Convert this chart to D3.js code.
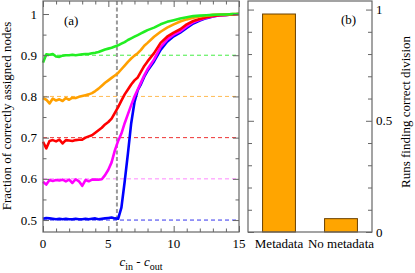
<!DOCTYPE html>
<html>
<head>
<meta charset="utf-8">
<script src="https://cdn.jsdelivr.net/npm/d3@7"></script>
<style>
  html, body { margin: 0; padding: 0; background: #fff; }
  svg { display: block; }
  text { font-family: "Liberation Serif", "Times New Roman", serif; fill: #000; }
</style>
</head>
<body>
<svg id="chart" width="415" height="273"></svg>
<script>
// ---------- data ----------
const xValues = [0,0.25,0.5,0.75,1,1.25,1.5,1.75,2,2.25,2.5,2.75,3,3.25,3.5,3.75,4,4.25,4.5,4.75,5,5.25,5.5,5.75,6,6.25,6.5,6.75,7,7.25,7.5,7.75,8,8.5,9,9.5,10,10.5,11,11.5,12,12.5,13,13.5,14,14.5,15];

const green = [0.882,0.902,0.901,0.903,0.897,0.896,0.899,0.900,0.900,0.901,0.900,0.901,0.902,0.903,0.903,0.905,0.906,0.908,0.911,0.914,0.916,0.918,0.921,0.924,0.928,0.932,0.937,0.941,0.945,0.949,0.953,0.957,0.961,0.967,0.975,0.981,0.985,0.989,0.992,0.995,0.996,0.997,0.998,0.999,0.999,1.0,1.0];
const orange = [0.796,0.792,0.783,0.795,0.790,0.793,0.789,0.796,0.792,0.797,0.796,0.799,0.801,0.803,0.805,0.808,0.813,0.819,0.826,0.833,0.839,0.845,0.851,0.857,0.866,0.875,0.884,0.892,0.899,0.905,0.913,0.923,0.930,0.945,0.957,0.967,0.975,0.982,0.987,0.991,0.994,0.996,0.998,0.999,0.999,1.0,1.0];
const red = [0.690,0.674,0.692,0.694,0.691,0.695,0.686,0.694,0.693,0.692,0.694,0.695,0.695,0.700,0.703,0.706,0.712,0.718,0.724,0.732,0.738,0.746,0.760,0.774,0.790,0.805,0.817,0.829,0.839,0.846,0.860,0.874,0.885,0.905,0.930,0.945,0.955,0.963,0.975,0.983,0.988,0.992,0.995,0.997,0.998,0.999,1.0];
const magenta = [0.593,0.586,0.597,0.595,0.597,0.596,0.598,0.594,0.598,0.590,0.599,0.594,0.583,0.597,0.594,0.598,0.598,0.598,0.599,0.609,0.622,0.640,0.669,0.692,0.710,0.735,0.757,0.779,0.800,0.817,0.834,0.851,0.866,0.890,0.920,0.938,0.950,0.958,0.970,0.980,0.986,0.991,0.994,0.997,0.998,0.999,1.0];
const blue = [0.503,0.505,0.504,0.503,0.502,0.503,0.502,0.503,0.502,0.502,0.503,0.502,0.502,0.503,0.502,0.503,0.504,0.502,0.503,0.504,0.505,0.506,0.504,0.503,0.530,0.593,0.662,0.735,0.786,0.815,0.830,0.848,0.862,0.885,0.913,0.933,0.946,0.955,0.966,0.977,0.984,0.990,0.994,0.997,0.998,0.999,1.0];

const seriesNames = ["blue","magenta","red","orange","green"];
const seriesLevels = [0.5, 0.6, 0.7, 0.8, 0.9];
const threshold = 5.657;

const xTickMajor = [0,5,10,15];
const xTickMinor = [1,2,3,4,6,7,8,9,11,12,13,14];
const yTickMajor = [0.5,0.6,0.7,0.8,0.9,1];
const yTickMinor = [0.55,0.65,0.75,0.85,0.95];

const barCategories = ["Metadata","No metadata"];
const barValues = [0.98, 0.06];
const bTickMajor = [0, 0.5, 1];
const bTickMinor = [0.1,0.2,0.3,0.4,0.6,0.7,0.8,0.9];

// ---------- styling ----------
const colors = {green:"#22ee22", orange:"#ffa000", red:"#ff0000", magenta:"#ff00ff", blue:"#0000ff"};
const dashColors = {green:"#44ee44", orange:"#ffbb55", red:"#ee3333", magenta:"#ff88ff", blue:"#3333ee"};
const frameColor = "#666";
const seriesData = {green, orange, red, magenta, blue};

const svg = d3.select("#chart");

// ---------- panel (a) ----------
const A = {l:43, r:239, t:1, b:232};
const x = d3.scaleLinear().domain([0,15]).range([A.l, A.r]);
const y = d3.scaleLinear().domain([0.471, 1.0316]).range([A.b, A.t]);

const gA = svg.append("g");

// reference dashed lines
seriesNames.forEach((name, i) => {
  gA.append("line")
    .attr("x1", x(0)).attr("x2", x(15))
    .attr("y1", y(seriesLevels[i])).attr("y2", y(seriesLevels[i]))
    .attr("stroke", dashColors[name]).attr("stroke-width", 1)
    .attr("stroke-dasharray", "4,3");
});

// threshold line
gA.append("line")
  .attr("x1", x(threshold)).attr("x2", x(threshold))
  .attr("y1", A.t).attr("y2", A.b)
  .attr("stroke", "#999").attr("stroke-width", 2)
  .attr("stroke-dasharray", "4,2.5");

// curves
const line = d3.line().x((d, i) => x(xValues[i])).y(d => y(d));
seriesNames.forEach(name => {
  gA.append("path")
    .datum(seriesData[name])
    .attr("d", line)
    .attr("fill", "none")
    .attr("stroke", colors[name])
    .attr("stroke-width", 2.6)
    .attr("stroke-linejoin", "round");
});

// axes (inward ticks)
function tickAxis(g, axisFn, scale, vals, size, transform) {
  const ax = axisFn(scale).tickValues(vals).tickSize(size).tickFormat("");
  const sel = g.append("g").attr("transform", transform).call(ax);
  sel.select(".domain").remove();
  sel.selectAll("line").attr("stroke", frameColor);
  return sel;
}
tickAxis(gA, d3.axisBottom, x, xTickMajor, -6, `translate(0,${A.b})`);
tickAxis(gA, d3.axisBottom, x, xTickMinor, -3.5, `translate(0,${A.b})`);
tickAxis(gA, d3.axisTop, x, xTickMajor, -6, `translate(0,${A.t})`);
tickAxis(gA, d3.axisTop, x, xTickMinor, -3.5, `translate(0,${A.t})`);
tickAxis(gA, d3.axisLeft, y, yTickMajor, -6, `translate(${A.l},0)`);
tickAxis(gA, d3.axisLeft, y, yTickMinor, -3.5, `translate(${A.l},0)`);
tickAxis(gA, d3.axisRight, y, yTickMajor, -6, `translate(${A.r},0)`);
tickAxis(gA, d3.axisRight, y, yTickMinor, -3.5, `translate(${A.r},0)`);

// frame
gA.append("rect")
  .attr("x", A.l).attr("y", A.t).attr("width", A.r - A.l).attr("height", A.b - A.t)
  .attr("fill", "none").attr("stroke", frameColor).attr("stroke-width", 1.2);

// tick labels
gA.selectAll(".xl").data(xTickMajor).enter().append("text")
  .attr("x", d => x(d)).attr("y", 248)
  .attr("text-anchor", "middle").attr("font-size", 13)
  .text(d => d);
gA.selectAll(".yl").data(yTickMajor).enter().append("text")
  .attr("x", 37).attr("y", d => y(d)).attr("dy", "0.35em")
  .attr("text-anchor", "end").attr("font-size", 13)
  .text(d => d);

// labels
gA.append("text").attr("x", 64).attr("y", 25).attr("font-size", 13).text("(a)");
gA.append("text")
  .attr("transform", `translate(11,116) rotate(-90)`)
  .attr("text-anchor", "middle").attr("font-size", 13)
  .text("Fraction of correctly assigned nodes");

const xt = gA.append("text").attr("x", 141).attr("y", 266)
  .attr("text-anchor", "middle").attr("font-size", 13);
xt.append("tspan").attr("font-style", "italic").text("c");
xt.append("tspan").attr("font-size", 10).attr("dy", 3.5).text("in");
xt.append("tspan").attr("dy", -3.5).text(" - ");
xt.append("tspan").attr("font-style", "italic").text("c");
xt.append("tspan").attr("font-size", 10).attr("dy", 3.5).text("out");

// ---------- panel (b) ----------
const B = {l:248, r:372, t:1, b:232};
const xb = d3.scaleBand().domain(barCategories).range([B.l, B.r])
  .paddingInner(0.47).paddingOuter(0.235);
const yb = d3.scaleLinear().domain([0, 1.0385]).range([B.b, B.t]);

const gB = svg.append("g");

gB.selectAll(".bar").data(barValues).enter().append("rect")
  .attr("x", (d, i) => xb(barCategories[i]))
  .attr("width", xb.bandwidth())
  .attr("y", d => yb(d))
  .attr("height", d => yb(0) - yb(d))
  .attr("fill", "#ffa500")
  .attr("stroke", "#6a4000").attr("stroke-width", 1);

tickAxis(gB, d3.axisRight, yb, bTickMajor, -6, `translate(${B.r},0)`);
tickAxis(gB, d3.axisRight, yb, bTickMinor, -4, `translate(${B.r},0)`);
tickAxis(gB, d3.axisLeft, yb, bTickMajor, -6, `translate(${B.l},0)`);
tickAxis(gB, d3.axisLeft, yb, bTickMinor, -4, `translate(${B.l},0)`);

gB.append("rect")
  .attr("x", B.l).attr("y", B.t).attr("width", B.r - B.l).attr("height", B.b - B.t)
  .attr("fill", "none").attr("stroke", frameColor).attr("stroke-width", 1.2);

gB.selectAll(".bl").data(barCategories).enter().append("text")
  .attr("x", d => xb(d) + xb.bandwidth() / 2).attr("y", 248)
  .attr("text-anchor", "middle").attr("font-size", 13)
  .text(d => d);
gB.selectAll(".byl").data(bTickMajor).enter().append("text")
  .attr("x", 376).attr("y", d => yb(d)).attr("dy", "0.35em")
  .attr("text-anchor", "start").attr("font-size", 13)
  .text(d => d);

gB.append("text").attr("x", 341).attr("y", 24).attr("font-size", 13).text("(b)");
gB.append("text")
  .attr("transform", `translate(410,112) rotate(-90)`)
  .attr("text-anchor", "middle").attr("font-size", 13)
  .text("Runs finding correct division");
</script>
</body>
</html>
